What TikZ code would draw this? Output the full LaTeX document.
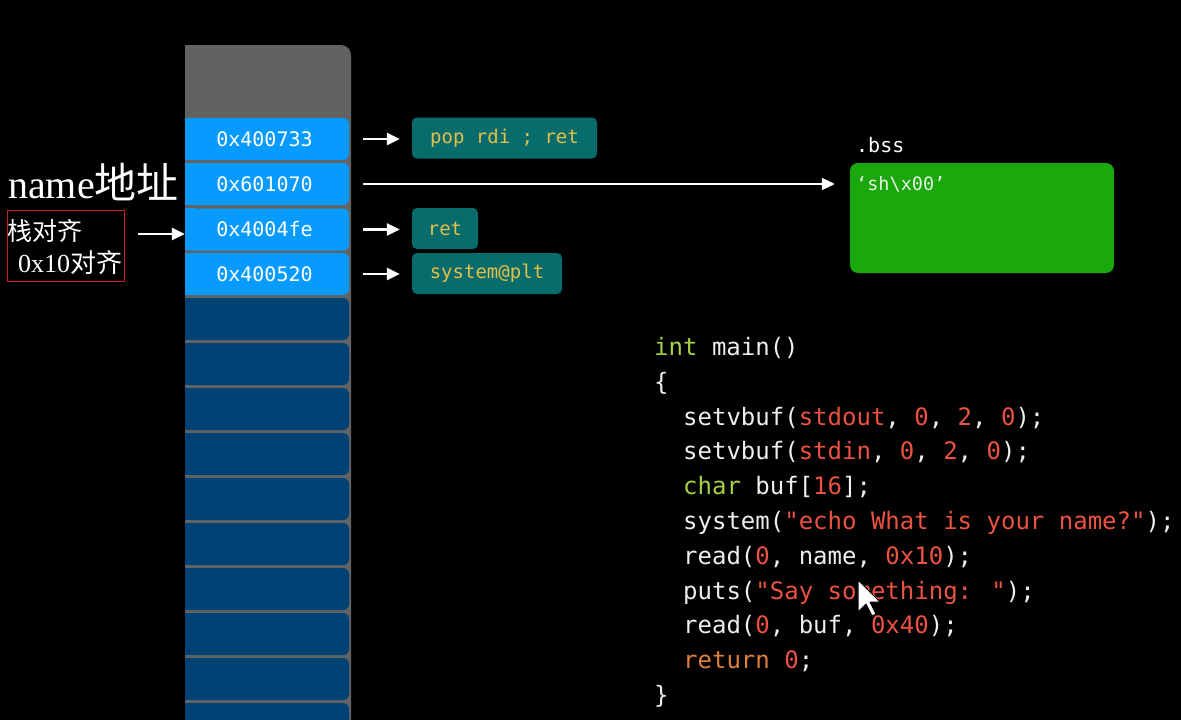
\documentclass[tikz,border=0pt]{standalone}
\usepackage{fontspec}
\setmainfont{Liberation Serif}
\newfontfamily\monof{DejaVu Sans Mono}
\newfontfamily\cjkf{Noto Sans CJK SC}
\usetikzlibrary{arrows.meta}
\definecolor{colgray}{RGB}{98,98,98}
\definecolor{lightcell}{RGB}{8,155,255}
\definecolor{darkcell}{RGB}{0,66,116}
\definecolor{tealbox}{RGB}{8,108,108}
\definecolor{gadget}{RGB}{226,192,72}
\definecolor{bssgreen}{RGB}{26,168,12}
\definecolor{bsstext}{RGB}{228,242,228}
\definecolor{codewhite}{RGB}{238,238,238}
\definecolor{kwgreen}{RGB}{166,208,70}
\definecolor{numred}{RGB}{236,82,66}
\definecolor{retorange}{RGB}{222,128,60}
\definecolor{annred}{RGB}{210,30,30}
\newcommand\CKw[1]{\textcolor{kwgreen}{#1}}
\newcommand\CRd[1]{\textcolor{numred}{#1}}
\newcommand\COr[1]{\textcolor{retorange}{#1}}
\tikzset{
  cell/.style={rounded corners=6, minimum width=164, minimum height=42, inner sep=0,
    font=\monof\fontsize{20}{20}\selectfont, text=white},
  gadgetbox/.style={rounded corners=5, fill=tealbox, minimum height=41, inner sep=0,
    font=\monof\fontsize{19}{19}\selectfont, text=gadget},
  codeline/.style={anchor=base west, inner sep=0, font=\monof\fontsize{24}{24}\selectfont, text=codewhite},
  arr/.style={draw=white, line width=2.5pt, -{Triangle[length=13pt,width=12pt]}},
}
\begin{document}
\begin{tikzpicture}[x=1pt,y=-1pt]
\useasboundingbox (0,0) rectangle (1181,720);
\clip (0,0) rectangle (1181,720);
\fill[black] (0,0) rectangle (1181,720);
% stack column
\fill[colgray] (185,45) rectangle (300,730);
\fill[colgray, rounded corners=10] (190,45) rectangle (351,730);
% light cells
\node[cell, fill=lightcell] (s1) at (267,139) {\hspace*{-5pt}0x400733};
\node[cell, fill=lightcell] (s2) at (267,184) {\hspace*{-5pt}0x601070};
\node[cell, fill=lightcell] (s3) at (267,229.5) {\hspace*{-5pt}0x4004fe};
\node[cell, fill=lightcell] (s4) at (267,274) {\hspace*{-5pt}0x400520};
\foreach \t in {118,163,208,253} { \fill[lightcell] (185,\t) rectangle (195,{\t+42}); }
% dark cells
\foreach \i in {0,...,9} {
  \node[cell, fill=darkcell] (d\i) at (267,{319+45*\i}) {};
  \fill[darkcell] (185,{298+45*\i}) rectangle (195,{340+45*\i});
}
% gadget boxes
\node[gadgetbox, minimum width=185] (pop) at (504.5,138) {pop rdi ; ret};
\node[gadgetbox, minimum width=66] (ret) at (445,228.5) {ret};
\node[gadgetbox, minimum width=150] (sys) at (487,273.5) {system@plt};
% bss
\node[anchor=base west, inner sep=0, text=white, font=\monof\fontsize{20}{20}\selectfont] (bsslabel) at (856,152) {.bss};
\node[rounded corners=8, fill=bssgreen, minimum width=264, minimum height=110, inner sep=0] (bss) at (982,218) {};
\node[anchor=base west, inner sep=0, text=bsstext, font=\monof\fontsize{18.5}{18.5}\selectfont] (shstr) at (856,190) {‘sh\textbackslash x00’};
% arrows
\draw[arr, shorten <=14, shorten >=12] (s1.east) -- (s1.east -| pop.west);
\draw[arr, line width=2pt, shorten <=14, shorten >=15] (s2.east) -- (s2.east -| bss.west);
\draw[arr, shorten <=14, shorten >=12] (s3.east) -- (s3.east -| ret.west);
\draw[arr, shorten <=14, shorten >=12] (s4.east) -- (s4.east -| sys.west);
% annotations
\node[anchor=base west, inner sep=0, text=white, font=\fontsize{40}{40}\selectfont] (nameaddr) at (8,198) {name{\cjkf\fontsize{42}{42}\selectfont 地址}};
\node[draw=annred, line width=1, minimum width=117, minimum height=71, inner sep=0] (align) at (65.5,245.5) {};
\node[anchor=base west, inner sep=0, text=white, font=\cjkf\fontsize{25}{25}\selectfont] (al1) at (7,240) {栈对齐};
\node[anchor=base west, inner sep=0, text=white, font=\fontsize{26}{26}\selectfont] (al2) at (18,272) {0x10{\cjkf 对齐}};
\coordinate (la) at (138,234);
\draw[arr] (la) -- (la -| s3.west);
% code
\node[codeline] (c1) at (654,355) {\CKw{int} main()};
\node[codeline] (c2) at (654,390) {\{};
\node[codeline] (c3) at (683,425) {setvbuf(\CRd{stdout}, \CRd{0}, \CRd{2}, \CRd{0});};
\node[codeline] (c4) at (683,459) {setvbuf(\CRd{stdin}, \CRd{0}, \CRd{2}, \CRd{0});};
\node[codeline] (c5) at (683,494) {\CKw{char} buf[\CRd{16}];};
\node[codeline] (c6) at (683,529) {system(\CRd{"echo What is your name?"});};
\node[codeline] (c7) at (683,564) {read(\CRd{0}, name, \CRd{0x10});};
\node[codeline] (c8) at (683,599) {puts(\CRd{"Say something: "});};
\node[codeline] (c9) at (683,633) {read(\CRd{0}, buf, \CRd{0x40});};
\node[codeline] (c10) at (683,668) {\COr{return} \CRd{0};};
\node[codeline] (c11) at (654,703) {\}};
% mouse cursor
\draw[black, fill=white, line width=1, line join=round] (858,580) -- ++(0,32) -- ++(8,-8) -- ++(6,12) -- ++(4,-2) -- ++(-6,-12) -- ++(10,0) -- cycle;
\end{tikzpicture}
\end{document}
